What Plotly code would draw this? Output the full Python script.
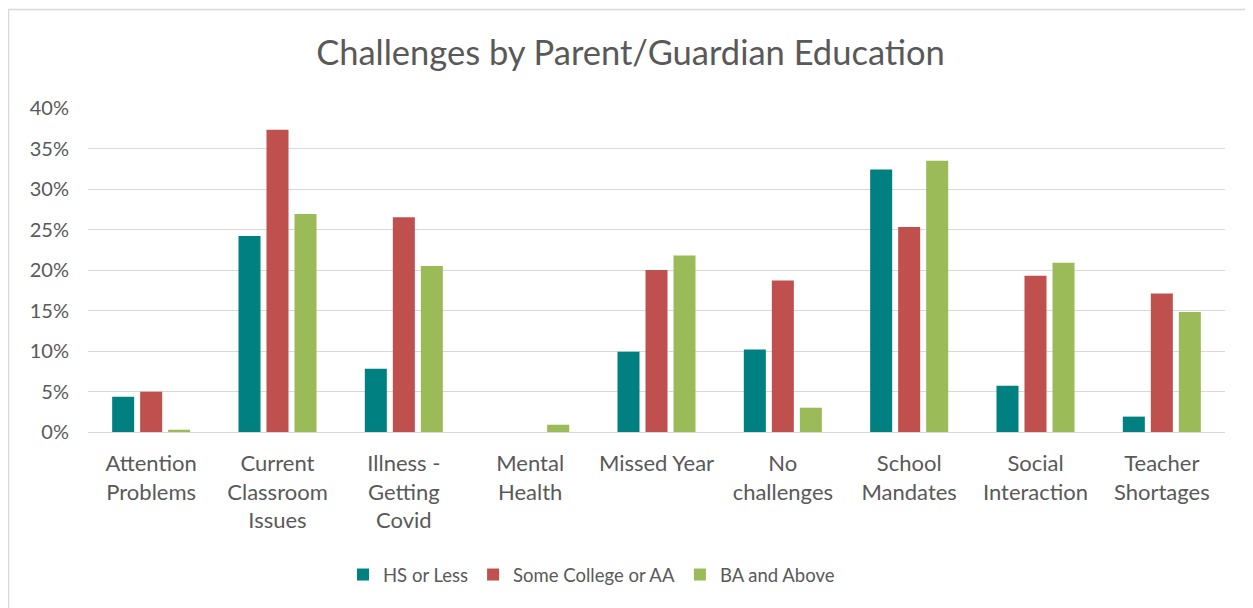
import plotly.graph_objects as go

categories = ["Attention<br>Problems", "Current<br>Classroom<br>Issues", "Illness -<br>Getting<br>Covid",
              "Mental<br>Health", "Missed Year", "No<br>challenges", "School<br>Mandates",
              "Social<br>Interaction", "Teacher<br>Shortages"]
hs_or_less = [0.0435, 0.242, 0.078, 0.0, 0.099, 0.102, 0.324, 0.057, 0.019]
some_college = [0.0497, 0.373, 0.265, 0.0, 0.200, 0.187, 0.253, 0.193, 0.171]
ba_above = [0.0028, 0.269, 0.205, 0.009, 0.218, 0.030, 0.335, 0.209, 0.148]
series_names = ["HS or Less", "Some College or AA", "BA and Above"]
colors = ["#008080", "#C0504D", "#9BBB59"]

FONT = "Lato"
W, H = 1245, 600
L, T, R, B = 80, 100, 28, 176
PW = W - L - R
PH = H - T - B

fig = go.Figure()
for name, vals, col in zip(series_names, [hs_or_less, some_college, ba_above], colors):
    fig.add_trace(go.Bar(name=name, x=categories, y=vals, marker=dict(color=col, line=dict(width=0))))

fig.update_layout(
    width=W, height=H,
    margin=dict(l=L, r=R, t=T, b=B),
    paper_bgcolor="white", plot_bgcolor="white",
    barmode="group", bargap=0.335, bargroupgap=0.214,
    font=dict(family=FONT, color="#595959", size=20),
    title=dict(text="Challenges by Parent/Guardian Education", x=0.5, xanchor="center",
               y=1 - 45 / H, yanchor="middle", font=dict(size=34.5, color="#595959", family=FONT)),
    legend=dict(orientation="h", x=0.5 - 65 / PW, xanchor="center", y=(PH - (575 - 8 - T)) / PH,
                yanchor="middle", font=dict(size=18.5, color="#595959"), traceorder="normal"),
    showlegend=True,
)
fig.update_yaxes(range=[0, 0.40], dtick=0.05, tickformat=".0%", showgrid=True, gridcolor="#D9D9D9",
                 gridwidth=1, zeroline=True, zerolinecolor="#D9D9D9", zerolinewidth=1,
                 tickfont=dict(size=20, color="#595959"), ticks="", showline=False, fixedrange=True,
                 ticklabelstandoff=18)
fig.update_xaxes(showgrid=False, showline=False, ticks="", tickfont=dict(size=22, color="#595959"),
                 fixedrange=True, ticklabelstandoff=16)
fig.add_shape(type="rect", xref="paper", yref="paper",
              x0=(0.5 - L) / PW, x1=(W + 10 - L) / PW, y0=-(B + 10) / PH, y1=(PH + T - 1.5) / PH,
              line=dict(color="#D9D9D9", width=1.5), fillcolor="rgba(0,0,0,0)", layer="below")
fig.write_html("out.html")
